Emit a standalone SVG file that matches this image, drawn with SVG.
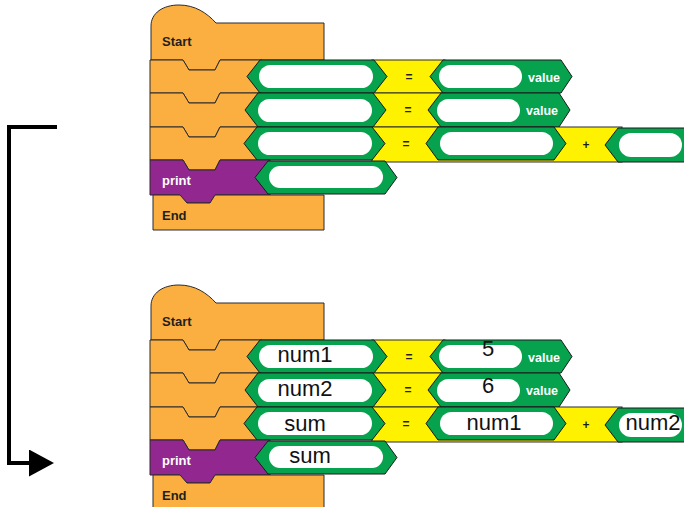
<svg xmlns="http://www.w3.org/2000/svg" width="684" height="507" viewBox="0 0 684 507">
  <defs>
    <style>
      .stmt { fill: #FBAF41; stroke: #2b2b2b; stroke-width: 1; stroke-linejoin: miter; }
      .prt { fill: #92278F; stroke: #2b2b2b; stroke-width: 1; }
      .op { fill: #FFF200; stroke: #2b2b2b; stroke-width: 1; }
      .slot { fill: #06A24E; stroke: #1a1a1a; stroke-width: 1; }
      .pill { fill: #ffffff; }
      .kw { font-family: "Liberation Sans", Arial, sans-serif; font-weight: bold; font-size: 13px; fill: #1f1f1f; }
      .kw-w { font-family: "Liberation Sans", Arial, sans-serif; font-weight: bold; font-size: 13px; fill: #ffffff; }
      .val { font-family: "Liberation Sans", Arial, sans-serif; font-weight: bold; font-size: 12.5px; fill: #ffffff; text-anchor: middle; }
      .sym { font-family: "Liberation Sans", Arial, sans-serif; font-weight: bold; font-size: 12px; fill: #1f1f1f; text-anchor: middle; }
      .var { font-family: "Liberation Sans", Arial, sans-serif; font-size: 22px; fill: #111111; text-anchor: middle; }
      .wire { fill: none; stroke: #000000; stroke-width: 4; }
    </style>
    <marker id="head" markerUnits="userSpaceOnUse" markerWidth="26" markerHeight="28" refX="0" refY="13.5" orient="auto">
      <path d="M0,0 L25,13.5 L0,27 Z" fill="#000000"/>
    </marker>
  </defs>

  <!-- connector: from the empty program down to the filled-in print line -->
  <g id="connectors">
    <path class="wire" d="M57,127 L9,127 L9,463 L29,463" marker-end="url(#head)"/>
  </g>

  <!-- ===== empty template program ===== -->
  <g id="template">
    <g id="t-start">
      <path class="stmt" d="M151,60 L151,26 C151,13 163,5 179,5 C195,5 207,13 216,23 L324,23 L324,60 L220,60 L215,70 L189,70 L183,60 Z"/>
      <text class="kw" x="162" y="46">Start</text>
    </g>
    <g id="t-assign1">
      <path class="stmt" d="M150,60 L183,60 L189,70 L215,70 L220,60 L262,60 L262,93 L220,93 L215,103 L189,103 L183,93 L150,93 Z"/>
      <rect class="op" x="372" y="60" width="73" height="33"/>
      <polygon class="slot" points="247,76.5 260,60 374,60 387,76.5 374,93 260,93"/>
      <rect class="pill" x="259" y="65" width="114" height="23" rx="11.5"/>
      <text class="sym" x="409" y="81">=</text>
      <polygon class="slot" points="430,76.5 443,60 561,60 572,76.5 561,93 443,93"/>
      <rect class="pill" x="439" y="65" width="83" height="23" rx="11.5"/>
      <text class="val" x="544" y="82">value</text>
    </g>
    <g id="t-assign2">
      <path class="stmt" d="M150,93 L183,93 L189,103 L215,103 L220,93 L262,93 L262,127 L220,127 L215,137 L189,137 L183,127 L150,127 Z"/>
      <rect class="op" x="372" y="93" width="73" height="34"/>
      <polygon class="slot" points="245,110 258,93 373,93 386,110 373,127 258,127"/>
      <rect class="pill" x="258" y="99" width="114" height="23" rx="11.5"/>
      <text class="sym" x="408" y="114">=</text>
      <polygon class="slot" points="428,110 441,93 559,93 570,110 559,127 441,127"/>
      <rect class="pill" x="437" y="99" width="83" height="23" rx="11.5"/>
      <text class="val" x="542" y="115">value</text>
    </g>
    <g id="t-assign3">
      <path class="stmt" d="M150,127 L183,127 L189,137 L215,137 L220,127 L262,127 L262,160 L220,160 L215,170 L189,170 L183,160 L150,160 Z"/>
      <rect class="op" x="372" y="127" width="250" height="35"/>
      <polygon class="slot" points="244,143.5 257,127 372,127 385,143.5 372,160 257,160"/>
      <rect class="pill" x="258" y="132" width="114" height="23" rx="11.5"/>
      <text class="sym" x="406" y="148">=</text>
      <polygon class="slot" points="426,143.5 438,127 554,127 566,143.5 554,160 438,160"/>
      <rect class="pill" x="440" y="132" width="113" height="23" rx="11.5"/>
      <text class="sym" x="586" y="149">+</text>
      <polygon class="slot" points="605,145 618,128 690,128 690,162 618,162"/>
      <rect class="pill" x="619" y="133" width="63" height="24" rx="12"/>
    </g>
    <g id="t-print">
      <path class="prt" d="M150,160 L183,160 L189,170 L215,170 L220,160 L270,160 L270,195 L215,195 L210,203 L187,203 L180,195 L150,195 Z"/>
      <polygon class="slot" points="255,177.5 268,161 385,161 397,177.5 385,194 268,194"/>
      <rect class="pill" x="269" y="166" width="114" height="22" rx="11"/>
      <text class="kw-w" x="162" y="185">print</text>
    </g>
    <g id="t-end">
      <path class="stmt" d="M153,195 L180,195 L187,203 L210,203 L215,195 L324,195 L324,230 L153,230 Z"/>
      <text class="kw" x="162" y="220">End</text>
    </g>
  </g>

  <!-- ===== filled-in program ===== -->
  <g id="program" transform="translate(0,280)">
    <g id="p-start">
      <path class="stmt" d="M151,60 L151,26 C151,13 163,5 179,5 C195,5 207,13 216,23 L324,23 L324,60 L220,60 L215,70 L189,70 L183,60 Z"/>
      <text class="kw" x="162" y="46">Start</text>
    </g>
    <g id="p-assign1">
      <path class="stmt" d="M150,60 L183,60 L189,70 L215,70 L220,60 L262,60 L262,93 L220,93 L215,103 L189,103 L183,93 L150,93 Z"/>
      <rect class="op" x="372" y="60" width="73" height="33"/>
      <polygon class="slot" points="247,76.5 260,60 374,60 387,76.5 374,93 260,93"/>
      <rect class="pill" x="259" y="65" width="114" height="23" rx="11.5"/>
      <text class="var" x="305" y="82">num1</text>
      <text class="sym" x="409" y="81">=</text>
      <polygon class="slot" points="430,76.5 443,60 561,60 572,76.5 561,93 443,93"/>
      <rect class="pill" x="439" y="65" width="83" height="23" rx="11.5"/>
      <text class="var" x="488" y="76">5</text>
      <text class="val" x="544" y="82">value</text>
    </g>
    <g id="p-assign2">
      <path class="stmt" d="M150,93 L183,93 L189,103 L215,103 L220,93 L262,93 L262,127 L220,127 L215,137 L189,137 L183,127 L150,127 Z"/>
      <rect class="op" x="372" y="93" width="73" height="34"/>
      <polygon class="slot" points="245,110 258,93 373,93 386,110 373,127 258,127"/>
      <rect class="pill" x="258" y="99" width="114" height="23" rx="11.5"/>
      <text class="var" x="305" y="116">num2</text>
      <text class="sym" x="408" y="114">=</text>
      <polygon class="slot" points="428,110 441,93 559,93 570,110 559,127 441,127"/>
      <rect class="pill" x="437" y="99" width="83" height="23" rx="11.5"/>
      <text class="var" x="488" y="113">6</text>
      <text class="val" x="542" y="115">value</text>
    </g>
    <g id="p-assign3">
      <path class="stmt" d="M150,127 L183,127 L189,137 L215,137 L220,127 L262,127 L262,160 L220,160 L215,170 L189,170 L183,160 L150,160 Z"/>
      <rect class="op" x="372" y="127" width="250" height="35"/>
      <polygon class="slot" points="244,143.5 257,127 372,127 385,143.5 372,160 257,160"/>
      <rect class="pill" x="258" y="132" width="114" height="23" rx="11.5"/>
      <text class="var" x="305" y="151">sum</text>
      <text class="sym" x="406" y="148">=</text>
      <polygon class="slot" points="426,143.5 438,127 554,127 566,143.5 554,160 438,160"/>
      <rect class="pill" x="440" y="132" width="113" height="23" rx="11.5"/>
      <text class="var" x="494" y="150">num1</text>
      <text class="sym" x="586" y="149">+</text>
      <polygon class="slot" points="605,145 618,128 690,128 690,162 618,162"/>
      <rect class="pill" x="619" y="133" width="63" height="24" rx="12"/>
      <text class="var" x="653" y="150">num2</text>
    </g>
    <g id="p-print">
      <path class="prt" d="M150,160 L183,160 L189,170 L215,170 L220,160 L270,160 L270,195 L215,195 L210,203 L187,203 L180,195 L150,195 Z"/>
      <polygon class="slot" points="255,177.5 268,161 385,161 397,177.5 385,194 268,194"/>
      <rect class="pill" x="269" y="166" width="114" height="22" rx="11"/>
      <text class="var" x="310" y="183">sum</text>
      <text class="kw-w" x="162" y="185">print</text>
    </g>
    <g id="p-end">
      <path class="stmt" d="M153,195 L180,195 L187,203 L210,203 L215,195 L324,195 L324,230 L153,230 Z"/>
      <text class="kw" x="162" y="220">End</text>
    </g>
  </g>
</svg>
